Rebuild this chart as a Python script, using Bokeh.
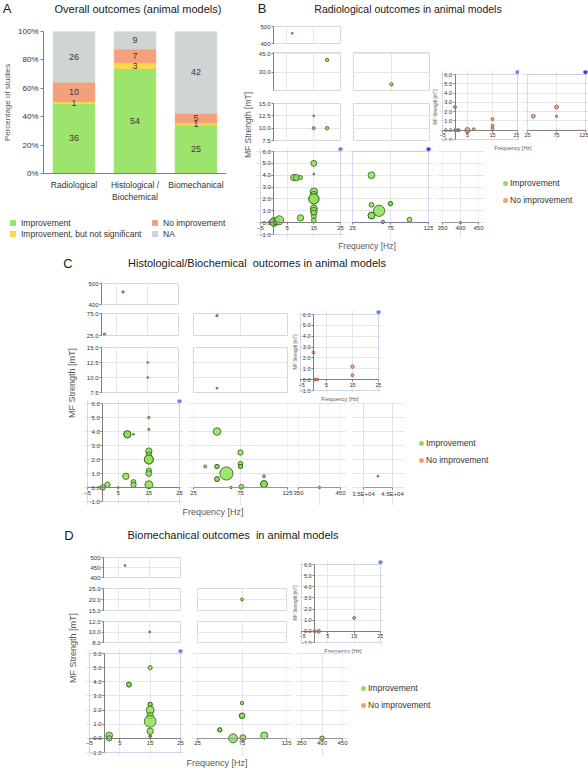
import math

from bokeh.core.properties import value
from bokeh.embed import file_html
from bokeh.layouts import column, row
from bokeh.models import (BoxAnnotation, ColumnDataSource, Div, FactorRange, FixedTicker,
                          LabelSet, NumeralTickFormatter, PrintfTickFormatter, Range1d, Spacer)
from bokeh.plotting import figure
from bokeh.resources import INLINE

FONT = "Liberation Sans"
DARK = "#1a1a1a"
GREY_TXT = "#595959"
TICK_TXT = "#333333"
OUTLINE = "#d9d9d9"
GRID = "#e6e6e6"
BLUE_BOX = "#9db2ea"
BLUE_DOT = "#6b84ea"
PURPLE_BOX = "#8a7ef0"
PURPLE_DOT = "#4a3ae8"
GREY_BOX = "#d6d6d6"
GREEN = "#8ee05a"
GREEN_EDGE = "#2f5f14"
SALMON = "#f2a07b"
SALMON_EDGE = "#8a5238"
BAR_GREEN = "#9de46d"
BAR_YELLOW = "#fdd64c"
BAR_SALMON = "#f5a07c"
BAR_GREY = "#cfd4d4"

# Panel A: number of studies per outcome type
CATEGORIES = ["Radiological", "Histological /\nBiochemical", "Biomechanical"]
IMPROVEMENT = [36, 54, 25]
IMPROVEMENT_NS = [1, 3, 1]
NO_IMPROVEMENT = [10, 7, 5]
NOT_AVAILABLE = [26, 9, 42]

# Panels B-D: frequency [Hz], MF strength [mT], bubble weight (studies)
B_IMP_FREQ = [7, 20, 75, 15, 15, 20, 0, 0, 1, 2, 0.5, 7.5, 8.5, 10, 10,
              15, 15, 15, 15, 15, 15, 15, 15, 15, 15, 15,
              50, 50, 50, 50, 60, 65, 75, 75, 100, 400]
B_IMP_MF = [460, 40, 20, 12.5, 10, 10, 0.05, 0.05, 0.1, 0.2, 0, 3.8, 3.8, 3.8, 0.4,
            5.0, 4.1, 2.6, 2.4, 2.0, 2.0, 1.2, 1.0, 0.8, 0.5, 0.2,
            4.0, 1.5, 0.6, 0.6, 1.0, 0.05, 1.6, 1.6, 0.25, 0]
B_IMP_N = [0.6, 2, 2, 0.6, 1.5, 2, 12, 12, 8, 14, 2, 7, 7, 3, 7,
           6, 0.6, 10, 6, 18, 18, 8, 8, 6, 4, 4,
           8, 4, 8, 8, 22, 2, 3, 3, 4, 1]
B_NO_FREQ = [0, 0, 1, 1.5, 5, 7.5, 15, 15, 15, 35, 75, 75]
B_NO_MF = [2.5, 0, 0, 0, 0, 0.1, 1.2, 0.5, 0.2, 1.5, 2.5, 1.5]
B_NO_N = [1.5, 1.5, 1.5, 1.5, 5, 1.5, 1.5, 1.5, 1.5, 2.5, 2.5, 1]

C_IMP_FREQ = [7, 1, 50, 15, 15, 50, 0, 1.5, 5, 7.5, 10, 10, 8, 8, 10,
              15, 15, 15, 15, 15, 15, 15, 15, 15,
              50, 37.5, 50, 50, 50, 50, 60, 65, 75, 75, 75, 75, 76,
              100, 100, 100, 400, 40000]
C_IMP_MF = [460, 28, 70, 12.5, 10, 8.2, 0, 0.2, 0, 0.8, 0.4, 0.2, 3.8, 3.8, 3.8,
            5.0, 4.15, 2.6, 2.35, 2.0, 2.0, 1.2, 1.0, 0.2,
            4.0, 1.5, 1.5, 1.5, 0.6, 0.6, 1.0, 0, 2.5, 1.7, 1.5, 1.5, 0.05,
            0.8, 0.25, 0.25, 0, 0.8]
C_IMP_N = [1, 1, 1, 0.6, 0.6, 0.6, 5, 5, 0.6, 7, 4, 5, 9, 9, 0.6,
           1, 1, 7, 5, 14, 14, 5, 6, 11,
           10, 1.5, 3, 3, 4, 4, 30, 1, 5, 4, 3, 3, 4,
           1.5, 8, 8, 1, 0.6]
C_NO_FREQ = [0, 0.5, 1.5, 15, 15]
C_NO_MF = [2.5, 0, 0, 1.2, 0.4]
C_NO_N = [1.5, 1.5, 1.5, 2, 1.5]

D_IMP_FREQ = [7, 75, 15, 1.5, 1.5, 8, 8, 15, 15, 15, 15, 15, 15, 15, 15, 15,
              50, 50, 65, 75, 75, 75, 76, 100, 400]
D_IMP_MF = [460, 20, 10, 0.2, 0.0, 3.8, 3.8, 5.0, 2.4, 2.4, 2.0, 1.6, 1.2, 0.5, 0.15, 0.15,
            0.6, 0.6, 0.0, 2.5, 1.6, 1.6, 0.05, 0.2, 0]
D_IMP_N = [0.6, 1.5, 0.6, 8, 5, 4, 4, 3, 3, 3, 11, 7, 24, 7, 1, 1,
           3, 3, 14, 2, 5, 5, 6, 9, 4]
D_NO_FREQ = [0, 1.5, 15]
D_NO_MF = [0, 0, 1.2]
D_NO_N = [1.5, 2.5, 1.5]

LOW_TICKS = [-1, 0, 1, 2, 3, 4, 5, 6]


def fig_base(w, h, xr, yr, left=0, right=0, top=0, bottom=0):
    p = figure(width=w, height=h, x_range=xr, y_range=yr,
               min_border_left=left, min_border_right=right,
               min_border_top=top, min_border_bottom=bottom,
               toolbar_location=None, output_backend="svg")
    p.outline_line_color = None
    return p


def text_div(w, h, items):
    # items: (text, x centre, y centre, font size, rotated, colour)
    parts = []
    for txt, x, y, size, rot, color in items:
        tr = "translate(-50%,-50%)" + (" rotate(-90deg)" if rot else "")
        parts.append(
            f'<div style="position:absolute;left:{x}px;top:{y}px;transform:{tr};'
            f"white-space:nowrap;font-family:'{FONT}';font-size:{size};"
            f'color:{color};line-height:1;">{txt}</div>')
    html = (f'<div style="position:relative;width:{w}px;height:{h}px;">'
            + "".join(parts) + "</div>")
    return Div(text=html, width=w, height=h, margin=0)


def legend_div(w, h, entries, marker=5, round_marker=True, gap=5, size="8.5px"):
    # entries: (marker x centre, y centre, label, colour)
    parts = []
    radius = "50%" if round_marker else "0"
    for x, y, label, color in entries:
        parts.append(
            f'<div style="position:absolute;left:{x - marker / 2}px;top:{y - marker / 2}px;'
            f'width:{marker}px;height:{marker}px;border-radius:{radius};'
            f'background:{color};"></div>')
        parts.append(
            f'<div style="position:absolute;left:{x + gap}px;top:{y}px;'
            f"transform:translateY(-50%);white-space:nowrap;font-family:'{FONT}';"
            f'font-size:{size};color:{TICK_TXT};line-height:1;">{label}</div>')
    html = (f'<div style="position:relative;width:{w}px;height:{h}px;">'
            + "".join(parts) + "</div>")
    return Div(text=html, width=w, height=h, margin=0)


def style(p, tick_size):
    for ax in p.axis:
        ax.major_label_text_font = FONT
        ax.major_label_text_font_size = tick_size
        ax.major_label_text_color = TICK_TXT
        ax.axis_line_color = "#7f7f7f"
        ax.major_tick_line_color = "#7f7f7f"
        ax.major_tick_out = 2
        ax.major_tick_in = 0
        ax.minor_tick_line_color = None
        ax.major_label_standoff = 1
    p.grid.grid_line_color = GRID


def add_bubbles(p, data, xr, yr, fill, edge):
    freq, mf, n = data
    keep = [i for i in range(len(freq))
            if xr[0] <= freq[i] < xr[1] and yr[0] <= mf[i] <= yr[1]]
    if not keep:
        return
    src = ColumnDataSource(data={
        "x": [freq[i] for i in keep],
        "y": [mf[i] for i in keep],
        "size": [2.4 * math.sqrt(n[i]) for i in keep],
    })
    p.scatter("x", "y", size="size", source=src, fill_color=fill, fill_alpha=0.85,
              line_color=edge, line_width=0.9, line_alpha=0.9)


def upper(fw, fh, xr, yr, yticks, fmt, b, xgrid, show_y, data, tick_size="6px"):
    left, right, top, bottom = b
    p = fig_base(left + fw + right, top + fh + bottom, Range1d(*xr), Range1d(*yr),
                 left, right, top, bottom)
    style(p, tick_size)
    p.outline_line_color = OUTLINE
    p.xaxis.visible = False
    p.xgrid.ticker = FixedTicker(ticks=xgrid)
    p.ygrid.ticker = FixedTicker(ticks=yticks)
    if show_y:
        p.yaxis.ticker = FixedTicker(ticks=yticks)
        p.yaxis.formatter = PrintfTickFormatter(format=fmt)
    else:
        p.yaxis.visible = False
    add_bubbles(p, data, xr, yr, GREEN, GREEN_EDGE)
    return p


def lower(fw, fh, box_x, xticks, b, show_y, box, data, no=False, xgrid=None,
          tick_size="6px", overrides=None, pad_x=6, dot=None):
    # fw, fh and b describe the boxed area; the frame is padded so that the
    # axes drawn at 0 keep their edge labels inside it
    left, right, top, bottom = b
    sx = fw / (box_x[1] - box_x[0])
    sy = fh / 7.0
    pl, pr = min(left, pad_x), min(right, pad_x)
    pt, pb = min(top, 4), min(bottom, 4)
    xr = (box_x[0] - pl / sx, box_x[1] + pr / sx)
    yr = (-1 - pb / sy, 6 + pt / sy)
    p = fig_base(left + fw + right, top + fh + bottom, Range1d(*xr), Range1d(*yr),
                 left - pl, right - pr, top - pt, bottom - pb)
    style(p, tick_size)
    p.xaxis.ticker = FixedTicker(ticks=xticks)
    p.xaxis.fixed_location = 0
    p.xaxis.bounds = box_x
    if overrides:
        p.xaxis.major_label_overrides = overrides
    p.xgrid.ticker = FixedTicker(ticks=xgrid if xgrid is not None else xticks)
    if show_y:
        p.yaxis.ticker = FixedTicker(ticks=LOW_TICKS)
        p.yaxis.formatter = PrintfTickFormatter(format="%.1f")
        p.yaxis.fixed_location = 0
        p.yaxis.bounds = (-1, 6)
        p.ygrid.ticker = FixedTicker(ticks=LOW_TICKS)
        p.add_layout(BoxAnnotation(left=box_x[0], right=box_x[1], bottom=-1, top=6,
                                   fill_alpha=0, line_color=box, line_width=1))
    else:
        p.yaxis.visible = False
        p.ygrid.ticker = FixedTicker(ticks=LOW_TICKS[1:])
        p.add_layout(BoxAnnotation(left=box_x[0], right=box_x[1], bottom=0, top=6,
                                   fill_alpha=0, line_color=box, line_width=1))
    if no:
        add_bubbles(p, data, box_x, (-1, 6), SALMON, SALMON_EDGE)
    else:
        add_bubbles(p, data, box_x, (-1, 6), GREEN, GREEN_EDGE)
    if dot:
        # selection handle of the highlighted chart area (top-right corner)
        p.scatter([box_x[1]], [6 + 2.5 / sy], size=3.5, color=dot)
    return p


def bubble_legend(w, h, x, y1, y2):
    return legend_div(w, h, [(x, y1, "Improvement", GREEN), (x, y2, "No improvement", SALMON)])


# ---------------- Panel A ----------------
totals = [a + b + c + d for a, b, c, d in
          zip(IMPROVEMENT, IMPROVEMENT_NS, NO_IMPROVEMENT, NOT_AVAILABLE)]
stack_names = ["imp", "ns", "no", "na"]
stack_counts = [IMPROVEMENT, IMPROVEMENT_NS, NO_IMPROVEMENT, NOT_AVAILABLE]
src_a = ColumnDataSource(data={"cat": CATEGORIES})
for name, counts in zip(stack_names, stack_counts):
    src_a.data[name] = [c / t for c, t in zip(counts, totals)]

lab = {"cat": [], "mid": [], "txt": []}
for i, cat in enumerate(CATEGORIES):
    base = 0.0
    for counts in stack_counts:
        frac = counts[i] / totals[i]
        lab["cat"].append(cat)
        lab["mid"].append(base + frac / 2)
        lab["txt"].append(str(counts[i]))
        base += frac

pA = figure(width=228, height=182, x_range=FactorRange(factors=CATEGORIES),
            y_range=Range1d(0, 1), min_border_left=40, min_border_right=2,
            min_border_top=9, min_border_bottom=26,
            toolbar_location=None, output_backend="svg")
pA.vbar_stack(stack_names, x="cat", width=0.68, source=src_a,
              color=[BAR_GREEN, BAR_YELLOW, BAR_SALMON, BAR_GREY])
pA.add_layout(LabelSet(x="cat", y="mid", text="txt", source=ColumnDataSource(data=lab),
                       text_align="center", text_baseline="middle",
                       text_font=value(FONT), text_font_size=value("9px"),
                       text_color="#3a3a3a"))
pA.grid.visible = False
pA.outline_line_color = None
style(pA, "8px")
pA.yaxis.ticker = FixedTicker(ticks=[0, 0.2, 0.4, 0.6, 0.8, 1.0])
pA.yaxis.formatter = NumeralTickFormatter(format="0%")
pA.yaxis.major_tick_out = 3
pA.yaxis.major_label_standoff = 2
pA.yaxis.axis_label = "Percentage of studies"
pA.yaxis.axis_label_text_font = FONT
pA.yaxis.axis_label_text_font_size = "8px"
pA.yaxis.axis_label_text_font_style = "normal"
pA.yaxis.axis_label_text_color = GREY_TXT
pA.yaxis.axis_label_standoff = 3
pA.xaxis.major_tick_line_color = None
pA.xaxis.major_label_text_font_size = "8.5px"
pA.xaxis.major_label_standoff = 4

leg_a = legend_div(228, 36, [
    (13, 19, "Improvement", BAR_GREEN),
    (13, 30, "Improvement, but not significant", BAR_YELLOW),
    (155, 19, "No improvement", BAR_SALMON),
    (155, 30, "NA", BAR_GREY),
], marker=6, round_marker=False, gap=8)
title_a = text_div(228, 22, [("A", 7, 8, "13px", False, DARK),
                             ("Overall outcomes (animal models)", 138, 9, "11px", False, DARK)])
block_a = column(title_a, pA, leg_a)

# ---------------- Panel B ----------------
b_imp = (B_IMP_FREQ, B_IMP_MF, B_IMP_N)
b_no = (B_NO_FREQ, B_NO_MF, B_NO_N)
b1 = upper(67, 17, (0, 25), (400, 500), [400, 500], "%d", (18, 2, 4, 4), [5, 15], True, b_imp)
b2a = upper(67, 38, (0, 25), (15, 46), [30, 45], "%.1f", (18, 2, 4, 4), [5, 15], True, b_imp)
b2b = upper(76, 38, (25, 125), (15, 46), [30, 45], "%.1f", (11, 2, 4, 4), [75], False, b_imp)
b3a = upper(67, 37, (0, 25), (7.5, 15), [7.5, 10, 12.5, 15], "%.1f", (18, 2, 4, 4), [5, 15], True, b_imp)
b3b = upper(76, 37, (25, 125), (7.5, 15), [7.5, 10, 12.5, 15], "%.1f", (11, 2, 4, 4), [75], False, b_imp)
b4a = lower(80, 83, (-5, 25), [-5, 5, 15, 25], (5, 5, 4, 4), True, BLUE_BOX, b_imp, dot=BLUE_DOT)
b4b = lower(76, 83, (25, 125), [25, 75, 125], (7, 5, 4, 4), False, PURPLE_BOX, b_imp,
            xgrid=[75], dot=PURPLE_DOT)
xlab_b = text_div(178, 17, [("Frequency [Hz]", 112, 8, "8.5px", False, GREY_TXT)])
col_b = column(b1, Spacer(height=1), row(b2a, b2b), Spacer(height=5), row(b3a, b3b),
               Spacer(height=3), row(b4a, b4b), xlab_b)
ylab_b = text_div(27, 233, [("MF Strength [mT]", 20, 103, "8.5px", True, GREY_TXT)])

ylab_bi = text_div(6, 71, [("MF Strength [mT]", 3, 37, "4.5px", True, GREY_TXT)])
bi1 = lower(75, 65, (-5, 25), [-5, 5, 15, 25], (3, 2, 4, 2), True, BLUE_BOX, b_no,
            no=True, tick_size="5.5px", dot=BLUE_DOT)
bi2 = lower(58, 65, (25, 125), [25, 75, 125], (8, 3, 4, 2), False, PURPLE_BOX, b_no,
            no=True, tick_size="5.5px", xgrid=[75], dot=PURPLE_DOT)
xlab_bi = text_div(155, 9, [("Frequency [Hz]", 80, 5, "5.5px", False, GREY_TXT)])
b4c = lower(36, 83, (350, 450), [350, 400, 450], (8, 7, 1, 4), False, GREY_BOX, b_imp, xgrid=[400])
leg_b = bubble_legend(103, 88, 20, 33, 50)
right_b = column(Spacer(height=48), row(ylab_bi, bi1, bi2), xlab_bi,
                 row(Spacer(width=1), b4c, leg_b))
title_b = text_div(360, 22, [("B", 34, 8, "13px", False, DARK),
                             ("Radiological outcomes in animal models", 180, 9, "10.5px", False, DARK)])
block_b = column(title_b, row(ylab_b, col_b, right_b))

# ---------------- Panel C ----------------
c_imp = (C_IMP_FREQ, C_IMP_MF, C_IMP_N)
c_no = (C_NO_FREQ, C_NO_MF, C_NO_N)
c1 = upper(77, 21, (0, 25), (400, 500), [400, 500], "%d", (18, 2, 4, 4), [5, 15], True, c_imp)
c2a = upper(77, 22, (0, 25), (25, 75), [25, 75], "%.1f", (18, 2, 4, 4), [5, 15], True, c_imp)
c2b = upper(94, 22, (25, 125), (25, 75), [25, 75], "%.1f", (13, 2, 4, 4), [75], False, c_imp)
c3a = upper(77, 45, (0, 25), (7.5, 15), [7.5, 10, 12.5, 15], "%.1f", (18, 2, 4, 4), [5, 15], True, c_imp)
c3b = upper(94, 45, (25, 125), (7.5, 15), [7.5, 10, 12.5, 15], "%.1f", (13, 2, 4, 4), [75], False, c_imp)
c4a = lower(92, 98, (-5, 25), [-5, 5, 15, 25], (4, 4, 4, 4), True, BLUE_BOX, c_imp, dot=BLUE_DOT)
c4b = lower(94, 98, (25, 125), [25, 75, 125], (10, 6, 4, 4), False, GREY_BOX, c_imp, xgrid=[75])
xlab_c = text_div(210, 15, [("Frequency [Hz]", 130, 7, "9px", False, GREY_TXT)])
col_c = column(Spacer(height=2), c1, Spacer(height=1), row(c2a, c2b), Spacer(height=4),
               row(c3a, c3b), Spacer(height=3), row(c4a, c4b), xlab_c)
ylab_c = text_div(83, 243, [("MF Strength [mT]", 72, 106, "9px", True, GREY_TXT)])

ylab_ci = text_div(5, 83, [("MF Strength [mT]", 2.5, 42, "4.5px", True, GREY_TXT)])
ci1 = lower(78, 76, (-5, 25), [-5, 5, 15, 25], (2, 3, 4, 3), True, BLUE_BOX, c_no,
            no=True, tick_size="5.5px", dot=BLUE_DOT)
xlab_ci = text_div(295, 9, [("Frequency [Hz]", 47, 4, "5.5px", False, GREY_TXT)])
c4c = lower(42, 98, (350, 450), [350, 450], (5, 8, 1, 4), False, GREY_BOX, c_imp, xgrid=[400])
c4d = lower(29, 98, (35000, 45000), [35000, 45000], (15, 15, 1, 4), False, GREY_BOX, c_imp,
            overrides={35000: "3.5E+04", 45000: "4.5E+04"}, pad_x=12)
leg_c = bubble_legend(181, 103, 14, 41, 58)
right_c = column(Spacer(height=33), row(ylab_ci, ci1), xlab_ci, row(c4c, c4d, leg_c))
title_c = text_div(588, 22, [("C", 68, 8, "13px", False, DARK),
                             ("Histological/Biochemical&nbsp; outcomes in animal models", 257, 8,
                              "11px", False, DARK)])
block_c = column(title_c, row(ylab_c, col_c, right_c))

# ---------------- Panel D ----------------
d_imp = (D_IMP_FREQ, D_IMP_MF, D_IMP_N)
d_no = (D_NO_FREQ, D_NO_MF, D_NO_N)
d1 = upper(77, 20, (0, 25), (400, 500), [400, 450, 500], "%d", (18, 2, 4, 4), [5, 15], True, d_imp)
d2a = upper(77, 22, (0, 25), (15, 25), [15, 20, 25], "%.1f", (18, 2, 4, 4), [5, 15], True, d_imp)
d2b = upper(89, 22, (25, 125), (15, 25), [15, 20, 25], "%.1f", (15, 3, 4, 4), [75], False, d_imp)
d3a = upper(77, 21, (0, 25), (8, 12), [8, 10, 12], "%.1f", (18, 2, 4, 4), [5, 15], True, d_imp)
d3b = upper(89, 21, (25, 125), (8, 12), [8, 10, 12], "%.1f", (15, 3, 4, 4), [75], False, d_imp)
d4a = lower(91, 99, (-5, 25), [-5, 5, 15, 25], (4, 4, 4, 4), True, BLUE_BOX, d_imp, dot=BLUE_DOT)
d4b = lower(89, 99, (25, 125), [25, 75, 125], (13, 6, 4, 4), False, GREY_BOX, d_imp, xgrid=[75])
xlab_d = text_div(207, 13, [("Frequency [Hz]", 132, 7, "9px", False, GREY_TXT)])
col_d = column(Spacer(height=6), d1, Spacer(height=3), row(d2a, d2b), Spacer(height=3),
               row(d3a, d3b), Spacer(height=3), row(d4a, d4b), xlab_d)
ylab_d = text_div(85, 222, [("MF Strength [mT]", 73, 101, "9px", True, GREY_TXT)])

ylab_di = text_div(7, 84, [("MF Strength [mT]", 3.5, 43, "4.5px", True, GREY_TXT)])
di1 = lower(79, 78, (-5, 25), [-5, 5, 15, 25], (2, 3, 4, 2), True, BLUE_BOX, d_no,
            no=True, tick_size="5.5px", dot=BLUE_DOT)
xlab_di = text_div(296, 8, [("Frequency [Hz]", 51, 4, "5.5px", False, GREY_TXT)])
d4c = lower(41, 99, (350, 450), [350, 400, 450], (8, 7, 1, 4), False, GREY_BOX, d_imp, xgrid=[400])
leg_d = bubble_legend(239, 104, 14, 36, 53)
right_d = column(Spacer(height=13), row(ylab_di, di1), xlab_di,
                 row(Spacer(width=1), d4c, leg_d))
title_d = text_div(588, 22, [("D", 69, 10, "13px", False, DARK),
                             ("Biomechanical outcomes&nbsp; in animal models", 233, 10, "11px",
                              False, DARK)])
block_d = column(title_d, row(ylab_d, col_d, right_d))

page = column(row(block_a, block_b), block_c, Spacer(height=5), block_d)

open("out.html", "w").write(file_html(page, INLINE))
